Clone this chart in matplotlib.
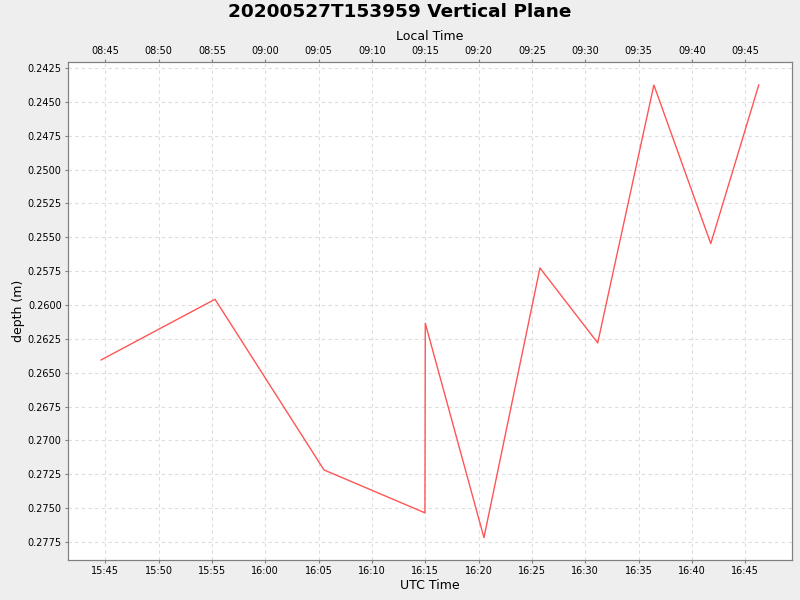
import datetime as dt
import matplotlib
matplotlib.use("Agg")
import matplotlib.pyplot as plt
import matplotlib.dates as mdates
from matplotlib.ticker import FuncFormatter, MultipleLocator

# ---------------------------
# Data
# ---------------------------
TITLE = "20200527T153959 Vertical Plane"
UTC_OFFSET_HOURS = -7  # local time = UTC - 7h

times_utc = [
    "2020-05-27 15:44:36",
    "2020-05-27 15:55:17",
    "2020-05-27 16:05:30",
    "2020-05-27 16:14:58",
    "2020-05-27 16:15:00",
    "2020-05-27 16:20:30",
    "2020-05-27 16:25:45",
    "2020-05-27 16:31:10",
    "2020-05-27 16:36:26",
    "2020-05-27 16:41:46",
    "2020-05-27 16:46:16",
]
depths = [0.26406, 0.25958, 0.27218, 0.27535, 0.26135, 0.27718,
          0.25727, 0.26280, 0.24376, 0.25547, 0.24376]

x_start = "2020-05-27 15:41:30"
x_end = "2020-05-27 16:49:23"
y_top = 0.24206
y_bottom = 0.27883


# ---------------------------
# Plot
# ---------------------------
def parse(s):
    return dt.datetime.strptime(s, "%Y-%m-%d %H:%M:%S")


def style_ticks(a):
    for sp in a.spines.values():
        sp.set_color("#808080")
    a.tick_params(colors="#808080", labelcolor="black", labelsize=7,
                  length=2.5, width=0.8, pad=2)


def main():
    t = [parse(s) for s in times_utc]

    fig = plt.figure(figsize=(8, 6), dpi=100, facecolor="#EEEEEE")
    ax = fig.add_axes([0.085, 0.0667, 0.905, 0.83])
    ax.set_facecolor("white")

    ax.plot(t, depths, color="#FF5555", linewidth=1.0)

    ax.set_xlim(parse(x_start), parse(x_end))
    ax.set_ylim(y_bottom, y_top)  # inverted depth axis

    ax.xaxis.set_major_locator(mdates.MinuteLocator(byminute=range(0, 60, 5)))
    ax.xaxis.set_major_formatter(mdates.DateFormatter("%H:%M"))
    ax.yaxis.set_major_locator(MultipleLocator(0.0025))
    ax.yaxis.set_major_formatter(FuncFormatter(lambda v, p: f"{v:.4f}"))

    ax.grid(True, color="#DDDDDD", linestyle=(0, (3, 3)), linewidth=0.8)
    style_ticks(ax)

    ax.set_xlabel("UTC Time", fontsize=9, labelpad=2)
    ax.set_ylabel("depth (m)", fontsize=9, labelpad=2)

    # top axis: local time
    top = ax.twiny()
    top.set_xlim(ax.get_xlim())
    top.xaxis.set_major_locator(mdates.MinuteLocator(byminute=range(0, 60, 5)))
    shift = dt.timedelta(hours=UTC_OFFSET_HOURS)
    top.xaxis.set_major_formatter(FuncFormatter(
        lambda v, p: (mdates.num2date(v) + shift).strftime("%H:%M")))
    style_ticks(top)
    top.set_xlabel("Local Time", fontsize=9, labelpad=4)

    fig.suptitle(TITLE, fontsize=13.3, fontweight="bold", y=0.995)

    fig.savefig("out.png", dpi=100, facecolor=fig.get_facecolor())


if __name__ == "__main__":
    main()
